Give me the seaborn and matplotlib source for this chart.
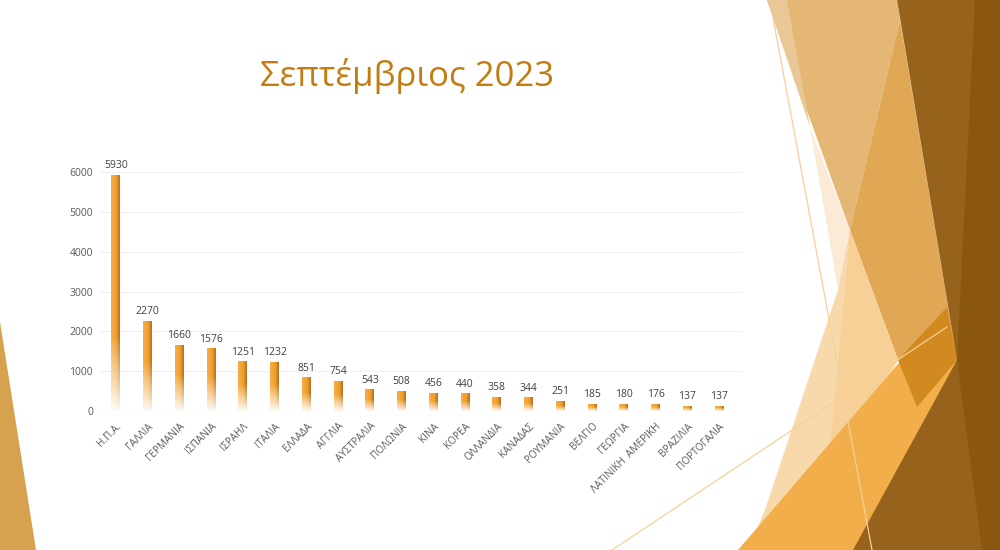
import numpy as np
import pandas as pd
import seaborn as sns
import matplotlib.pyplot as plt
from matplotlib.patches import Polygon
from matplotlib.colors import to_rgb
from matplotlib.lines import Line2D

# data
countries = ['Η.Π.Α.', 'ΓΑΛΛΙΑ', 'ΓΕΡΜΑΝΙΑ', 'ΙΣΠΑΝΙΑ', 'ΙΣΡΑΗΛ', 'ΙΤΑΛΙΑ', 'ΕΛΛΑΔΑ',
             'ΑΓΓΛΙΑ', 'ΑΥΣΤΡΑΛΙΑ', 'ΠΟΛΩΝΙΑ', 'ΚΙΝΑ', 'ΚΟΡΕΑ', 'ΟΛΛΑΝΔΙΑ', 'ΚΑΝΑΔΑΣ',
             'ΡΟΥΜΑΝΙΑ', 'ΒΕΛΓΙΟ', 'ΓΕΩΡΓΙΑ', 'ΛΑΤΙΝΙΚΗ  ΑΜΕΡΙΚΗ', 'ΒΡΑΖΙΛΙΑ', 'ΠΟΡΤΟΓΑΛΙΑ']
values = [5930, 2270, 1660, 1576, 1251, 1232, 851, 754, 543, 508, 456, 440, 358, 344,
          251, 185, 180, 176, 137, 137]
yticks = [0, 1000, 2000, 3000, 4000, 5000, 6000]
title = 'Σεπτέμβριος 2023'

df = pd.DataFrame({'country': countries, 'value': values})

sns.set_theme(style='white')
plt.rcParams['font.family'] = ['Open Sans', 'DejaVu Sans']

fig = plt.figure(figsize=(10, 5.5), dpi=100)
fig.patch.set_facecolor('white')


def px(pts):
    # slide pixel coords -> figure fraction
    return [(x / 1000, 1 - y / 550) for x, y in pts]


# slide decoration (Facet-like facets), back to front
shapes = [
    ([(0, 322), (0, 550), (36, 550)], '#D6A24F'),
    ([(767, 0), (897, 0), (900, 20), (850, 230)], '#E4B775'),
    ([(767, 0), (787, 0), (810, 127)], '#E9C896'),
    ([(900, 20), (957, 360), (898, 360), (850, 230)], '#E0A855'),
    ([(810, 127), (850, 230), (838, 290)], '#FBEBD6'),
    ([(850, 230), (838, 290), (765, 510), (748, 550), (800, 550), (898, 360)], '#F8D9AC'),
    ([(850, 230), (898, 360), (830, 450), (845, 290)], '#F7D097'),
    ([(738, 550), (947, 307), (1000, 550)], '#F2AE4B'),
    ([(898, 360), (947, 307), (957, 360), (917, 407)], '#D08A1F'),
    ([(897, 0), (1000, 0), (1000, 550), (853, 550), (957, 360)], '#97621B'),
    ([(975, 0), (1000, 0), (1000, 550), (982, 550), (957, 360)], '#8B5710'),
]
for pts, col in shapes:
    fig.add_artist(Polygon(px(pts), closed=True, facecolor=col, edgecolor='none',
                           transform=fig.transFigure, zorder=0))
for pts in [[(773, 18), (872, 550)], [(612, 550), (947, 327)]]:
    (x1, y1), (x2, y2) = px(pts)
    fig.add_artist(Line2D([x1, x2], [y1, y2], color='#F8CF97', lw=0.9,
                          transform=fig.transFigure, zorder=1))

fig.text(0.407, 0.862, title, ha='center', va='center', fontsize=25,
         color='#C27C10')

ax = fig.add_axes([0.100, 0.2527, 0.635, 0.4345])
ax.set_facecolor('none')

sns.barplot(data=df, x='country', y='value', color='#F2A233', width=0.28,
            saturation=1, ax=ax, zorder=2)

# gradient fill: darker right side, fading to white at the bottom
light = np.array(to_rgb('#F7AE45'))
mid = np.array(to_rgb('#F09D2C'))
dark = np.array(to_rgb('#B5701A'))
cols = np.linspace(0, 1, 24)
row_col = np.array([light + (mid - light) * (c / 0.6) if c < 0.6 else
                    mid + (dark - mid) * ((c - 0.6) / 0.4) for c in cols])
for p, v in zip(ax.patches, values):
    x0, w = p.get_x(), p.get_width()
    h = p.get_height()
    ys = np.linspace(0, h, 200)
    f = min(0.55 * h, 1900)
    t = np.clip(1 - ys / f, 0, 1) * 0.95
    img = np.ones((len(ys), len(cols), 4))
    img[:, :, :3] = row_col[None, :, :] * (1 - t[:, None, None]) + t[:, None, None]
    im = ax.imshow(img, extent=[x0, x0 + w, 0, h], origin='lower', aspect='auto',
                   zorder=3, interpolation='bilinear')
    im.set_clip_path(p)
    ax.text(x0 + w / 2, h + 90, f'{v}', ha='center', va='bottom', fontsize=7.5,
            color='#404040', zorder=4)

ax.set_xlim(-0.5, len(countries) - 0.5)
ax.set_ylim(0, 6000)
ax.set_yticks(yticks)
ax.set_yticklabels([str(t) for t in yticks], fontsize=7.5, color='#595959')
ax.set_xticks(range(len(countries)))
ax.set_xticklabels(countries, rotation=45, ha='right', rotation_mode='anchor',
                   fontsize=7.2, color='#595959')
ax.tick_params(axis='both', length=0)
ax.tick_params(axis='y', pad=5)
ax.tick_params(axis='x', pad=7)
ax.set_xlabel('')
ax.set_ylabel('')
for t in yticks[1:]:
    ax.axhline(t, xmax=1.01, color='#F0F0F0', lw=0.8, zorder=1, clip_on=False)
ax.axhline(0, color='#E6E6E6', lw=0.8, zorder=1)
for s in ax.spines.values():
    s.set_visible(False)

fig.savefig('out.png', dpi=100)
